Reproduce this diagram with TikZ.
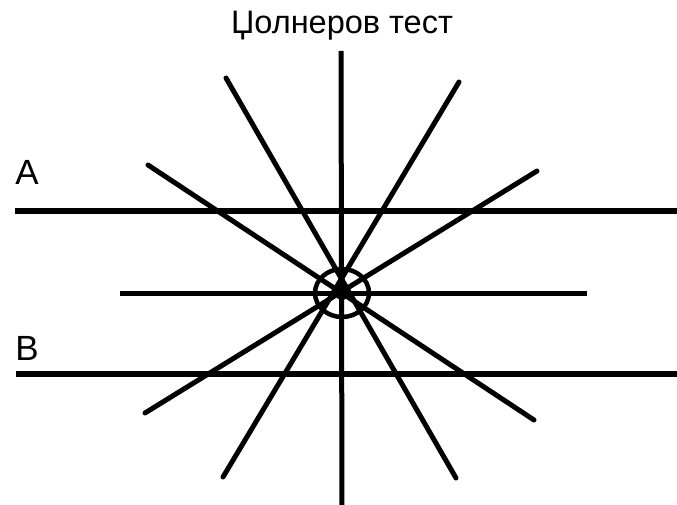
\documentclass[tikz,border=0pt]{standalone}
\usepackage{fontspec}
\setmainfont{Liberation Sans}
\begin{document}
\begin{tikzpicture}[x=1pt,y=-1pt,
  thick line/.style={line width=6pt,line cap=round},
  ray/.style={line width=5pt,line cap=round},
  lbl/.style={inner sep=0pt,font=\fontsize{35}{36}\selectfont}]
\useasboundingbox (0,0) rectangle (677,505);
% title
\node[inner sep=0pt,font=\fontsize{32.5}{34}\selectfont] (title) at (342,26) {Џолнеров тест};
% labels
\node[lbl] (A) at (27,172) {A};
\node[lbl] (B) at (27,348) {B};
% coordinates
\coordinate (Aw) at (15,211);
\coordinate (Ae) at (680,211);
\coordinate (Bw) at (16,374);
\coordinate (Be) at (680,374);
\coordinate (Mw) at (120,293);
\coordinate (Me) at (587,293);
\coordinate (Vn) at (341,51);
\coordinate (Vs) at (342,510);
\coordinate (c) at (342,293);
\coordinate (r1a) at (226,78);  \coordinate (r1b) at (456,478);
\coordinate (r2a) at (148,165); \coordinate (r2b) at (534,420);
\coordinate (r3a) at (459,82);  \coordinate (r3b) at (223,477);
\coordinate (r4a) at (537,171); \coordinate (r4b) at (145,413);
% lines
\draw[thick line,line cap=butt] (Aw) -- (Ae);
\draw[thick line,line cap=butt] (Bw) -- (Be);
\draw[ray,line cap=butt] (Mw) -- (Me);
\draw[ray,line cap=butt] (Vn) -- (Vs);
\draw[ray] (r1a) -- (r1b);
\draw[ray] (r2a) -- (r2b);
\draw[ray] (r3a) -- (r3b);
\draw[ray] (r4a) -- (r4b);
\draw[line width=4.5pt] (c) ellipse [x radius=27, y radius=24];
\fill (c) circle (7);
\end{tikzpicture}
\end{document}
